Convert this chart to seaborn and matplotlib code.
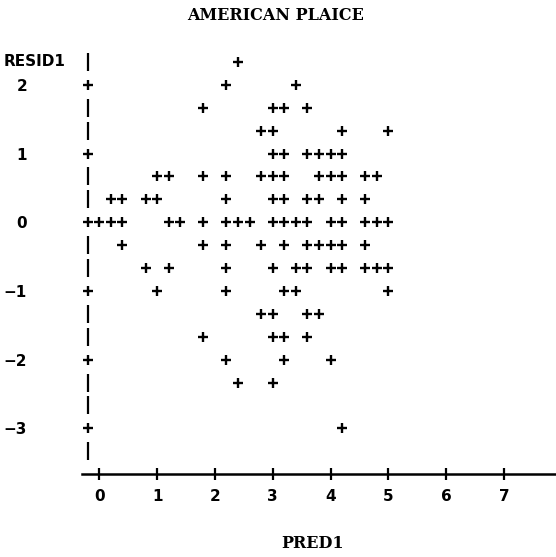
import matplotlib
matplotlib.use("Agg")
import matplotlib.pyplot as plt
import matplotlib.transforms as mtransforms
import seaborn as sns
import pandas as pd

# Residual vs predicted values, printed on a character grid
# (PRED1 in steps of 0.2, RESID1 in steps of 1/3)
pred1 = [
    2.4,                                                            # 2.33
    2.2, 3.4,                                                       # 2
    1.8, 3.0, 3.2, 3.6,                                             # 1.67
    2.8, 3.0, 4.2, 5.0,                                             # 1.33
    3.0, 3.2, 3.6, 3.8, 4.0, 4.2,                                   # 1
    1.0, 1.2, 1.8, 2.2, 2.8, 3.0, 3.2, 3.8, 4.0, 4.2, 4.6, 4.8,     # 0.67
    0.2, 0.4, 0.8, 1.0, 2.2, 3.0, 3.2, 3.6, 3.8, 4.2, 4.6,          # 0.33
    0.0, 0.2, 0.4, 1.2, 1.4, 1.8, 2.2, 2.4, 2.6, 3.0, 3.2, 3.4,
    3.6, 4.0, 4.2, 4.6, 4.8, 5.0,                                   # 0
    0.4, 1.8, 2.2, 2.8, 3.2, 3.6, 3.8, 4.0, 4.2, 4.6,               # -0.33
    0.8, 1.2, 2.2, 3.0, 3.4, 3.6, 4.0, 4.2, 4.6, 4.8, 5.0,          # -0.67
    1.0, 2.2, 3.2, 3.4, 5.0,                                        # -1
    2.8, 3.0, 3.6, 3.8,                                             # -1.33
    1.8, 3.0, 3.2, 3.6,                                             # -1.67
    2.2, 3.2, 4.0,                                                  # -2
    2.4, 3.0,                                                       # -2.33
    4.2,                                                            # -3
]
resid1 = (
    [2.333] * 1 + [2.0] * 2 + [1.667] * 4 + [1.333] * 4 + [1.0] * 6
    + [0.667] * 12 + [0.333] * 11 + [0.0] * 18 + [-0.333] * 10
    + [-0.667] * 11 + [-1.0] * 5 + [-1.333] * 4 + [-1.667] * 4
    + [-2.0] * 3 + [-2.333] * 2 + [-3.0] * 1
)

x_ticks = [0, 1, 2, 3, 4, 5, 6, 7]
y_ticks = [2, 1, 0, -1, -2, -3]
y_tick_labels = ["2", "1", "0", "\u22121", "\u22122", "\u22123"]

df = pd.DataFrame({"PRED1": pred1, "RESID1": resid1})

sns.set_theme(style="white")
plt.rcParams["font.family"] = ["DejaVu Sans"]
plt.rcParams["text.color"] = "black"

W, H = 556, 557
fig = plt.figure(figsize=(W / 100, H / 100), dpi=100)
ax = fig.add_axes([82 / W, 1 - 474 / H, 474 / W, 424 / H])
ax.set_xlim(-0.299, 7.901)
ax.set_ylim(-3.664, 2.508)

sns.scatterplot(data=df, x="PRED1", y="RESID1", marker="+", s=62,
                linewidth=1.7, color="black", ax=ax, legend=False,
                clip_on=False)

# vertical axis drawn as a column of '|' and '+' characters
axis_x = -0.2
rows = [k / 3 for k in range(7, -11, -1)]
bar_rows = [r for r in rows if abs(r - round(r)) > 1e-6]
plus_rows = [r for r in rows if abs(r - round(r)) <= 1e-6]
ax.scatter([axis_x] * len(bar_rows), bar_rows, marker="|", s=150,
           linewidths=1.6, color="black", clip_on=False)
ax.scatter([axis_x] * len(plus_rows), plus_rows, marker="+", s=62,
           linewidths=1.7, color="black", clip_on=False)

for side in ["left", "right", "top"]:
    ax.spines[side].set_visible(False)
ax.spines["bottom"].set_linewidth(1.8)
ax.spines["bottom"].set_color("black")

ax.set_xticks(x_ticks)
ax.set_xticklabels([str(t) for t in x_ticks], fontweight="bold", fontsize=11)
ax.tick_params(axis="x", bottom=True, direction="inout", length=9,
               width=1.6, color="black", pad=6, labelcolor="black")
ax.set_yticks(y_ticks)
ax.set_yticklabels(y_tick_labels, fontweight="bold", fontsize=11)
ax.tick_params(axis="y", left=False, length=0, pad=39.5, labelcolor="black")
ax.grid(False)

ax.set_xlabel("PRED1", family="DejaVu Serif", fontweight="bold",
              fontsize=11.5, va="center", color="black")
ax.xaxis.set_label_coords((313 - 82) / 474, -(543 - 474) / 424)
ax.set_ylabel("")

blend = mtransforms.blended_transform_factory(fig.transFigure, ax.transData)
ax.text(4 / W, 7 / 3, "RESID1", transform=blend, ha="left", va="center",
        fontweight="bold", fontsize=11, color="black")

fig.text(276 / W, 1 - 15 / H, "AMERICAN PLAICE", ha="center", va="center",
         family="DejaVu Serif", fontweight="bold", fontsize=11.5,
         color="black")

fig.savefig("out.png", dpi=100, facecolor="white")
